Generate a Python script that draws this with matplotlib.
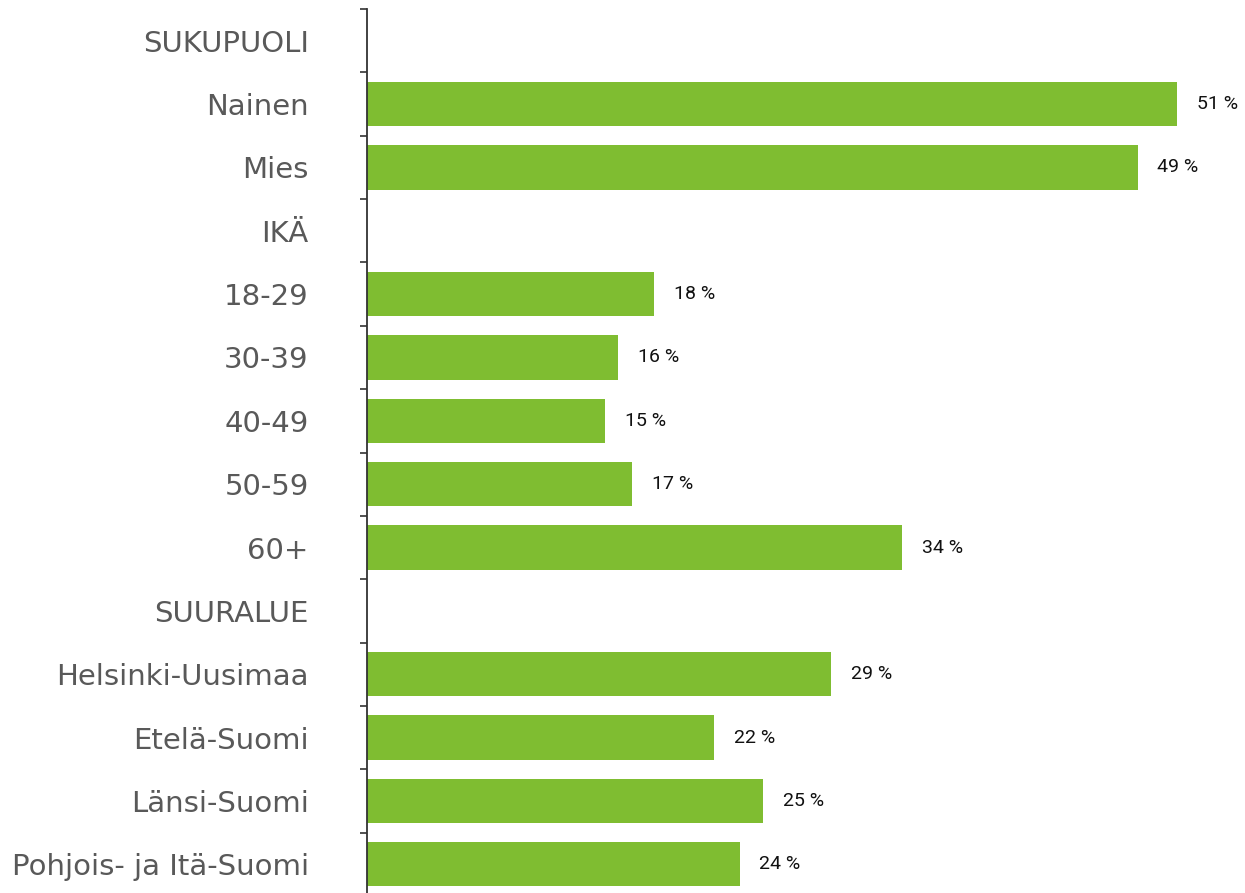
import matplotlib
matplotlib.use("Agg")
import matplotlib.pyplot as plt
import numpy as np

categories = ["SUKUPUOLI", "Nainen", "Mies", "IKÄ", "18-29", "30-39", "40-49",
              "50-59", "60+", "SUURALUE", "Helsinki-Uusimaa", "Etelä-Suomi",
              "Länsi-Suomi", "Pohjois- ja Itä-Suomi"]
values = [None, 51.3, 48.8, None, 18.2, 15.9, 15.1, 16.8, 33.9, None, 29.4, 22.0, 25.1, 23.6]

BAR = "#7FBD31"
DPI = 100
fig = plt.figure(figsize=(12.45, 8.93), dpi=DPI)
ax = fig.add_axes([367/1245, -3/893, 1 - 367/1245, (893 - 9 + 3)/893])

n = len(categories)
ypos = np.arange(n)
for y, v in zip(ypos, values):
    if v is None:
        continue
    ax.barh(y, v, height=0.7, color=BAR, edgecolor="none")
    ax.annotate(f"{round(v)} %", xy=(v, y), xytext=(14, 0), textcoords="offset points",
                va="center", ha="left", fontsize=14, color="#111111",
                family=["Roboto", "DejaVu Sans"])

ax.set_ylim(n - 0.5, -0.5)
ax.set_xlim(0, 55.6)

ax.set_yticks(ypos)
ax.set_yticklabels(categories, fontsize=21, color="#595959")
ax.tick_params(axis="y", which="major", length=0, pad=42)
ax.set_yticks(np.arange(-0.5, n + 0.5, 1), minor=True)
ax.tick_params(axis="y", which="minor", length=5, width=1.2, color="#333333", direction="out")

ax.set_xticks([])
for s in ["top", "right", "bottom"]:
    ax.spines[s].set_visible(False)
ax.spines["left"].set_color("#333333")
ax.spines["left"].set_linewidth(1.3)

fig.savefig("out.png", dpi=DPI)
